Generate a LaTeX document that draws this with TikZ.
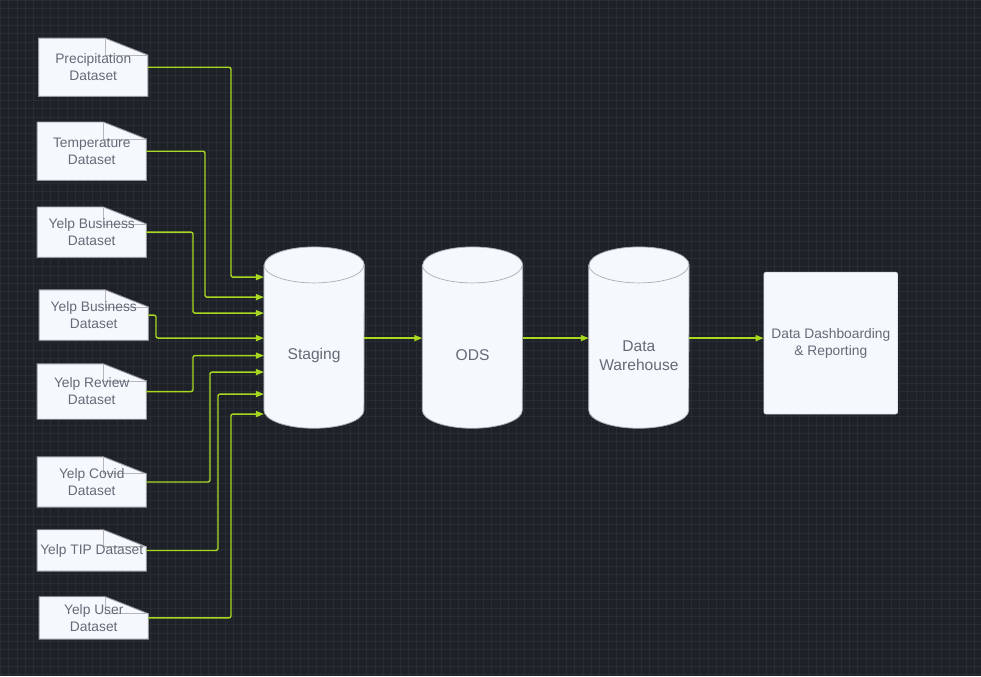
\documentclass[tikz,border=0pt]{standalone}
\usepackage{fontspec}
\setmainfont{Liberation Sans}
\usetikzlibrary{positioning,calc,arrows.meta,backgrounds}
\definecolor{canvasbg}{RGB}{30,33,40}
\definecolor{gridline}{RGB}{40,44,52}
\definecolor{paperfill}{RGB}{245,249,254}
\definecolor{edgegray}{RGB}{150,152,158}
\definecolor{labelgray}{RGB}{100,106,118}
\definecolor{flowgreen}{RGB}{168,216,32}

\begin{document}
\begin{tikzpicture}[x=1pt,y=-1pt,
	dataset/.style={
		text=labelgray, minimum width=109pt,
		inner sep=0pt, align=center, anchor=center,
		font=\fontsize{13.8}{17}\selectfont
	},
	store/.style={
		text=labelgray, minimum width=100pt, minimum height=145pt,
		inner sep=0pt, align=center, font=\fontsize{15.6}{19}\selectfont
	},
	report/.style={
		draw=edgegray!60, fill=paperfill, text=labelgray, rounded corners=2pt,
		minimum width=134pt, minimum height=142pt, align=center,
		font=\fontsize{13.8}{17}\selectfont
	},
	flow/.style={
		draw=flowgreen, line width=1.4pt, rounded corners=2pt,
		-{Triangle[length=8pt,width=6pt]}
	}
	]
	% background with grid
	\begin{scope}[on background layer]
		\fill[canvasbg] (0,0) rectangle (981,676);
		\foreach \gx in {0,8.33,...,981} \draw[gridline, line width=0.6pt] (\gx,0) -- (\gx,676);
		\foreach \gy in {0,8.33,...,676} \draw[gridline, line width=0.6pt] (0,\gy) -- (981,\gy);
	\end{scope}
	
	% source files
	\node[dataset, minimum height=58pt] (prec) at (93,67)    {Precipitation\\Dataset};
	\node[dataset, minimum height=58pt] (temp) at (91.5,151) {Temperature\\Dataset};
	\node[dataset, minimum height=50pt] (bus)  at (91.5,232) {Yelp Business\\Dataset};
	\node[dataset, minimum height=50pt] (busb) at (93.5,315) {Yelp Business\\Dataset};
	\node[dataset, minimum height=55pt] (rev)  at (91.5,391.5) {Yelp Review\\Dataset};
	\node[dataset, minimum height=50pt] (cov)  at (91.5,482) {Yelp Covid\\Dataset};
	\node[dataset, minimum height=41pt] (tip)  at (91.5,550.5) {Yelp TIP Dataset};
	\node[dataset, minimum height=42pt] (usr)  at (93.5,618) {Yelp User\\Dataset};
	
	% paper with folded corner under each file
	\begin{scope}[on background layer]
		\foreach \d in {prec,temp,bus,busb,rev,cov,tip,usr}{
			\filldraw[fill=paperfill, draw=edgegray, line width=0.9pt] (\d.south west) -- (\d.north west)
				-- ([xshift=-43pt]\d.north east) -- ([yshift=-17pt]\d.north east) -- (\d.south east) -- cycle;
			\draw[edgegray!70, line width=0.7pt] ([xshift=-43pt]\d.north east) |- ([yshift=-17pt]\d.north east);
		}
	\end{scope}
	
	% stores (body below the top lid)
	\node[store] (stg) at (314,355.5) {Staging};
	\node[store] (ods) at (472.5,355.5) {ODS};
	\node[store] (dwh) at (639,355.5) {Data\\Warehouse};
	\begin{scope}[on background layer]
		\foreach \c in {stg,ods,dwh}{
			\filldraw[fill=paperfill, draw=edgegray!80, line width=0.8pt]
				([yshift=18pt]\c.north west) -- ([yshift=18pt]\c.south west)
				arc[start angle=180, end angle=360, x radius=50pt, y radius=18pt]
				-- ([yshift=18pt]\c.north east)
				arc[start angle=0, end angle=180, x radius=50pt, y radius=18pt] -- cycle;
			\draw[edgegray!80, line width=0.7pt] ([yshift=18pt]\c.north west)
				arc[start angle=180, end angle=360, x radius=50pt, y radius=18pt];
		}
	\end{scope}
	\node[report] (dboard) at (831,343) {Data Dashboarding\\\& Reporting};
	
	% feeds into staging
	\draw[flow] (prec.east) -| ([xshift=-33pt,yshift=78.5pt]stg.west) -- ([yshift=78.5pt]stg.west);
	\draw[flow] (temp.east) -| ([xshift=-59pt,yshift=58.5pt]stg.west) -- ([yshift=58.5pt]stg.west);
	\draw[flow] (bus.east)  -| ([xshift=-71pt,yshift=42.5pt]stg.west) -- ([yshift=42.5pt]stg.west);
	\draw[flow] (busb.east) -| ([xshift=-108pt,yshift=17.5pt]stg.west) -- ([yshift=17.5pt]stg.west);
	\draw[flow] (rev.east)  -| ([xshift=-71pt]stg.west) -- (stg.west);
	\draw[flow] (cov.east)  -| ([xshift=-54pt,yshift=-16.5pt]stg.west) -- ([yshift=-16.5pt]stg.west);
	\draw[flow] (tip.east)  -| ([xshift=-46pt,yshift=-38.5pt]stg.west) -- ([yshift=-38.5pt]stg.west);
	\draw[flow] (usr.east)  -| ([xshift=-33pt,yshift=-58.5pt]stg.west) -- ([yshift=-58.5pt]stg.west);
	
	% pipeline
	\draw[flow] ([yshift=17.5pt]stg.east) -- ([yshift=17.5pt]ods.west);
	\draw[flow] ([yshift=17.5pt]ods.east) -- ([yshift=17.5pt]dwh.west);
	\draw[flow] ([yshift=17.5pt]dwh.east) -- ([yshift=5pt]dboard.west);
\end{tikzpicture}
\end{document}
